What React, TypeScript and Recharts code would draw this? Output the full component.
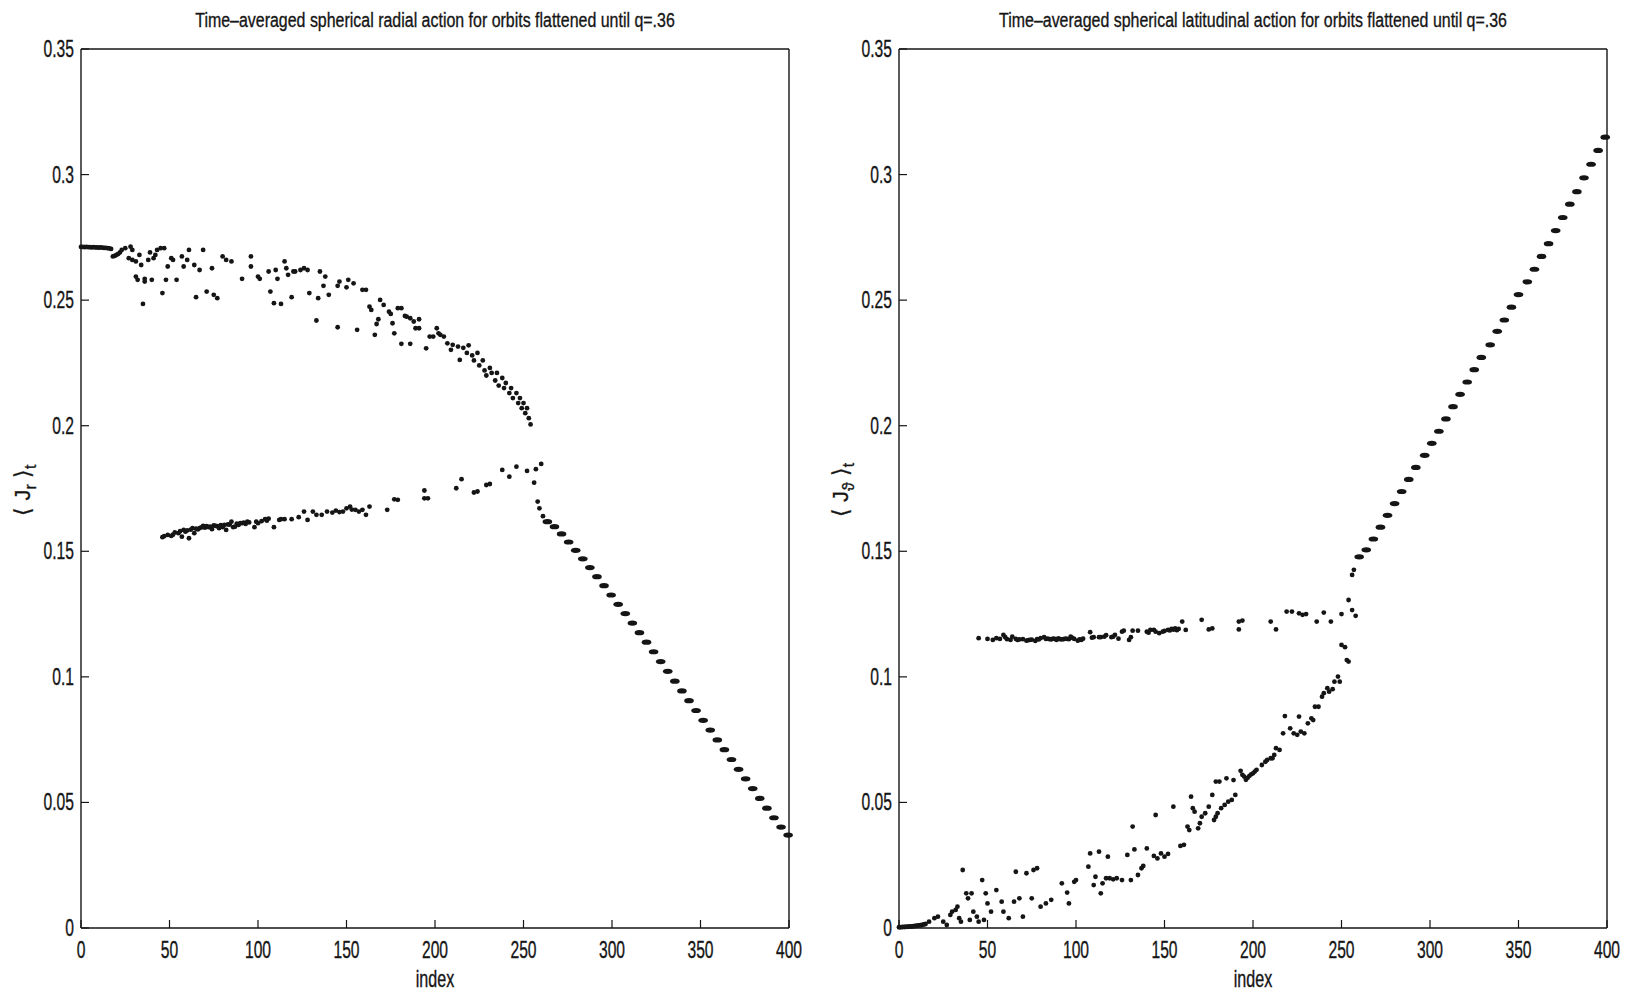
/**
 * Time-averaged spherical actions (radial / latitudinal) vs orbit index, q=.36.
 * Two MATLAB-style scatter panels side by side.
 */
import { Scatter, ScatterChart, XAxis, YAxis } from 'recharts';

type Pt = [number, number];

const xTicks = [0, 50, 100, 150, 200, 250, 300, 350, 400];
const yTicks = [0, 0.05, 0.1, 0.15, 0.2, 0.25, 0.3, 0.35];
const yTickLabels = ['0', '0.05', '0.1', '0.15', '0.2', '0.25', '0.3', '0.35'];

// ---- left panel: <J_r>_t ----
const radialFlat: Pt[] = [
  [0, 0.2712], [1, 0.2712], [2, 0.2711], [3, 0.2712], [4, 0.2711], [5, 0.2711],
  [6, 0.271], [7, 0.2711], [8, 0.271], [9, 0.271], [10, 0.2709], [11, 0.271],
  [12, 0.2709], [13, 0.2708], [14, 0.2708], [15, 0.2707], [16, 0.2706], [17, 0.2704],
];

const radialUpper: Pt[] = [
  [18, 0.2674], [19, 0.2676], [20, 0.268], [21, 0.2684], [22, 0.269], [23, 0.27],
  [25, 0.2707], [28, 0.2713], [29, 0.27], [27, 0.2667], [29, 0.266], [31, 0.2654],
  [33, 0.268], [31, 0.2594], [34, 0.264], [32, 0.2581], [36, 0.2585], [36, 0.2574],
  [35, 0.2485], [38, 0.266], [39, 0.269], [40, 0.2581], [41, 0.2667], [42, 0.268],
  [43, 0.27], [45, 0.2707], [47, 0.2707], [46, 0.2528], [48, 0.2581], [49, 0.2634],
  [51, 0.2667], [52, 0.266], [54, 0.2581], [57, 0.2674], [58, 0.2634], [60, 0.266],
  [61, 0.27], [64, 0.264], [65, 0.2512], [67, 0.262], [69, 0.27], [71, 0.2534],
  [74, 0.2627], [75, 0.2521], [77, 0.2508], [80, 0.2674], [82, 0.266], [85, 0.2654],
  [91, 0.2585], [96, 0.2634], [96, 0.2674], [100, 0.2594], [101, 0.2585], [106, 0.2614],
  [107, 0.2534], [109, 0.2488], [110, 0.262], [111, 0.2585], [113, 0.2485], [115, 0.2654],
  [116, 0.2627], [117, 0.2601], [119, 0.2512], [120, 0.2614], [121, 0.2614], [124, 0.262],
  [126, 0.2627], [128, 0.262], [129, 0.2528], [133, 0.2419], [134, 0.2508], [135, 0.2614],
  [137, 0.2557], [138, 0.2594], [140, 0.2521], [145, 0.2392], [145, 0.2557], [146, 0.2574],
  [150, 0.2551], [151, 0.2581], [154, 0.2567], [156, 0.2382], [159, 0.2541], [161, 0.2541],
  [163, 0.2474], [164, 0.2461], [166, 0.2362], [167, 0.2405], [168, 0.2424], [169, 0.2501],
  [171, 0.2481], [174, 0.2454], [175, 0.2445], [176, 0.2408], [177, 0.2368], [179, 0.2468],
  [181, 0.2468], [181, 0.2326], [183, 0.2437], [184, 0.2434], [186, 0.2326], [186, 0.2428],
  [188, 0.2415], [189, 0.2388], [191, 0.2388], [191, 0.2424], [195, 0.2308], [197, 0.2355],
  [199, 0.2355], [201, 0.2388], [202, 0.2368], [203, 0.2362], [205, 0.2355], [207, 0.2328],
  [209, 0.2302], [210, 0.2322], [213, 0.2315], [214, 0.2262], [216, 0.231], [218, 0.229],
  [219, 0.232], [221, 0.228], [222, 0.226], [224, 0.229], [225, 0.224], [227, 0.226],
  [228, 0.222], [229, 0.22], [231, 0.223], [232, 0.221], [234, 0.218], [235, 0.221],
  [236, 0.216], [238, 0.219], [239, 0.215], [240, 0.217], [242, 0.213], [243, 0.215],
  [244, 0.211], [246, 0.213], [247, 0.209], [248, 0.211], [249, 0.207], [250, 0.209],
  [251, 0.205], [252, 0.207], [253, 0.203], [254, 0.2005],
];

const radialLower: Pt[] = [
  [46, 0.1556], [47, 0.156], [49, 0.1565], [51, 0.1561], [52, 0.1566], [53, 0.1575],
  [55, 0.1572], [56, 0.158], [57, 0.1558], [58, 0.1585], [59, 0.1578], [60, 0.1583],
  [61, 0.1552], [62, 0.1586], [63, 0.1592], [64, 0.1572], [65, 0.159], [66, 0.1587],
  [67, 0.1592], [68, 0.1595], [69, 0.1601], [70, 0.1594], [71, 0.16], [72, 0.1596],
  [73, 0.1598], [74, 0.1588], [75, 0.1603], [76, 0.1601], [77, 0.16], [78, 0.1592],
  [79, 0.1604], [80, 0.1596], [81, 0.1605], [82, 0.1585], [83, 0.1607], [84, 0.1606],
  [85, 0.1618], [86, 0.1596], [87, 0.1598], [88, 0.161], [89, 0.1605], [90, 0.1612],
  [91, 0.1612], [92, 0.1614], [93, 0.1609], [94, 0.1618], [95, 0.1615], [98, 0.1596],
  [99, 0.1618], [100, 0.1612], [102, 0.162], [104, 0.1628], [105, 0.1622], [106, 0.163],
  [109, 0.1596], [112, 0.1625], [113, 0.1628], [115, 0.1628], [119, 0.1628], [123, 0.1636],
  [126, 0.1658], [128, 0.1625], [131, 0.1658], [133, 0.1645], [136, 0.1645], [139, 0.1658],
  [142, 0.1654], [144, 0.1662], [146, 0.1656], [148, 0.1658], [150, 0.1671], [152, 0.1678],
  [153, 0.1666], [155, 0.1665], [157, 0.1658], [159, 0.1665], [161, 0.1645], [163, 0.1678],
  [173, 0.1665], [177, 0.1707], [179, 0.1705], [194, 0.1742], [194, 0.1711], [196, 0.1711],
  [212, 0.1751], [215, 0.1787], [222, 0.1734], [224, 0.1738], [229, 0.1764], [231, 0.1768],
  [238, 0.1824], [242, 0.1797], [246, 0.1837], [252, 0.182], [256, 0.1773], [257, 0.1827],
  [260, 0.1848], [258, 0.1698], [259, 0.1671], [261, 0.164],
];

const radialTail: Pt[] = [
  [263.5, 0.1618], [267.5, 0.1598], [271.5, 0.1569], [275.5, 0.1537], [279.5, 0.1504],
  [283.5, 0.147], [287.5, 0.1435], [291.5, 0.1399], [295.5, 0.1363], [299.5, 0.1326],
  [303.5, 0.1289], [307.5, 0.1252], [311.5, 0.1214], [315.5, 0.1176], [319.5, 0.1138],
  [323.5, 0.11], [327.5, 0.1061], [331.5, 0.1022], [335.5, 0.0983], [339.5, 0.0944],
  [343.5, 0.0905], [347.5, 0.0866], [351.5, 0.0827], [355.5, 0.0788], [359.5, 0.0749],
  [363.5, 0.071], [367.5, 0.0671], [371.5, 0.0632], [375.5, 0.0594], [379.5, 0.0555],
  [383.5, 0.0516], [387.5, 0.0477], [391.5, 0.0439], [395.5, 0.0402], [399.5, 0.037],
];

// ---- right panel: <J_theta>_t ----
const latFlat: Pt[] = [
  [0, 0.0003], [1, 0.0003], [2, 0.0004], [3, 0.0004], [4, 0.0005], [5, 0.0005],
  [6, 0.0006], [7, 0.0006], [8, 0.0007], [9, 0.0008], [10, 0.0009], [11, 0.001],
  [12, 0.0011], [13, 0.0012], [14, 0.0014], [15, 0.0016],
];

const latLower: Pt[] = [
  [17, 0.0025], [20, 0.0039], [22, 0.0045], [25, 0.0025], [27, 0.0012], [29, 0.0052],
  [30, 0.0065], [32, 0.0072], [33, 0.0085], [34, 0.0039], [35, 0.0025], [36, 0.0231],
  [38, 0.0138], [39, 0.0118], [40, 0.0032], [41, 0.0138], [42, 0.0065], [44, 0.0045],
  [45, 0.0025], [47, 0.0191], [48, 0.0032], [49, 0.0138], [50, 0.0098], [52, 0.0065],
  [55, 0.0151], [58, 0.0105], [59, 0.0065], [62, 0.0039], [65, 0.0105], [66, 0.0224],
  [68, 0.0118], [70, 0.0045], [72, 0.0218], [75, 0.0118], [76, 0.0231], [78, 0.0238],
  [80, 0.0085], [83, 0.0098], [86, 0.0112], [92, 0.0178], [95, 0.0141], [96, 0.0098],
  [99, 0.0184], [100, 0.0191], [107, 0.0244], [108, 0.0297], [110, 0.0171], [111, 0.0204],
  [113, 0.0304], [114, 0.0138], [115, 0.0178], [117, 0.0198], [118, 0.0284], [119, 0.0198],
  [121, 0.0194], [123, 0.0198], [126, 0.0191], [129, 0.0291], [131, 0.0191], [132, 0.0404],
  [133, 0.0313], [135, 0.0211], [137, 0.0238], [138, 0.0247], [140, 0.0317], [144, 0.0287],
  [145, 0.045], [146, 0.0277], [148, 0.0297], [150, 0.0284], [152, 0.0295], [155, 0.0483],
  [159, 0.0327], [161, 0.0331], [163, 0.0404], [164, 0.039], [165, 0.0523], [166, 0.0477],
  [167, 0.0463], [169, 0.0397], [170, 0.0417], [171, 0.0443], [173, 0.0457], [175, 0.0483],
  [177, 0.053], [178, 0.043], [179, 0.0443], [180, 0.0457], [179, 0.0583], [181, 0.0583],
  [182, 0.0477], [184, 0.049], [185, 0.0596], [186, 0.0503], [188, 0.051], [189, 0.0589],
  [190, 0.053], [193, 0.0626], [194, 0.061], [195, 0.0603], [196, 0.059], [197, 0.0598],
  [198, 0.0606], [199, 0.0612], [200, 0.0616], [201, 0.0623], [202, 0.063], [205, 0.0649],
  [207, 0.0662], [208, 0.0669], [210, 0.0676], [211, 0.0676], [212, 0.0689], [213, 0.0716],
  [215, 0.0709], [217, 0.0775], [218, 0.0844], [221, 0.0795], [223, 0.0775], [225, 0.0769],
  [226, 0.0842], [227, 0.0782], [229, 0.0775], [231, 0.0815], [233, 0.0835], [234, 0.0828],
  [235, 0.0881], [237, 0.0881], [239, 0.0921], [240, 0.0935], [242, 0.0955], [243, 0.0941],
  [245, 0.0951], [246, 0.0981], [248, 0.1001], [249, 0.0981], [250, 0.1127], [252, 0.1118],
  [253, 0.1067], [254, 0.1061],
];

const latUpper: Pt[] = [
  [45, 0.1154], [50, 0.1151], [53, 0.1147], [55, 0.1154], [57, 0.1151], [59, 0.1167],
  [60, 0.1158], [61, 0.115], [63, 0.1147], [64, 0.116], [66, 0.1151], [67, 0.1147],
  [68, 0.1149], [70, 0.115], [72, 0.1144], [73, 0.1146], [74, 0.1147], [75, 0.1148],
  [77, 0.1143], [78, 0.115], [79, 0.1149], [80, 0.1154], [82, 0.1158], [83, 0.1151],
  [84, 0.1152], [85, 0.115], [86, 0.1149], [87, 0.1152], [88, 0.1151], [89, 0.1147],
  [90, 0.1153], [91, 0.115], [92, 0.1149], [93, 0.115], [94, 0.1152], [95, 0.1151],
  [96, 0.115], [97, 0.116], [98, 0.1155], [99, 0.1151], [101, 0.1144], [102, 0.1149],
  [103, 0.1147], [104, 0.1152], [108, 0.1178], [109, 0.1156], [110, 0.1158], [113, 0.1158],
  [114, 0.1158], [116, 0.116], [117, 0.1166], [120, 0.1158], [121, 0.116], [122, 0.1167],
  [124, 0.1152], [126, 0.118], [127, 0.1184], [130, 0.1147], [131, 0.1158], [132, 0.1184],
  [135, 0.1184], [140, 0.118], [141, 0.1176], [142, 0.1187], [144, 0.1187], [145, 0.118],
  [147, 0.1174], [149, 0.118], [150, 0.1183], [152, 0.1187], [153, 0.1185], [154, 0.1191],
  [155, 0.1188], [156, 0.1193], [157, 0.1186], [158, 0.1191], [160, 0.122], [162, 0.1187],
  [171, 0.1227], [175, 0.1189], [177, 0.1193], [192, 0.122], [194, 0.1224], [192, 0.1189],
  [210, 0.122], [213, 0.1189], [219, 0.126], [222, 0.126], [226, 0.1253], [228, 0.1247],
  [230, 0.125], [236, 0.122], [240, 0.1256], [244, 0.122], [250, 0.125], [254, 0.1306],
  [256, 0.1266], [258, 0.1243], [256, 0.1406], [257, 0.1426],
];

const latTail: Pt[] = [
  [260, 0.1478], [264, 0.1506], [268, 0.1549], [272, 0.1596], [276, 0.1643], [280, 0.169],
  [284, 0.1738], [288, 0.1786], [292, 0.1834], [297, 0.1882], [301, 0.193], [305, 0.1978],
  [309, 0.2027], [313, 0.2076], [317, 0.2125], [321, 0.2174], [325, 0.2223], [329, 0.2272],
  [334, 0.2322], [338, 0.2376], [342, 0.2421], [346, 0.2472], [350, 0.2522], [355, 0.2573],
  [359, 0.2623], [363, 0.2674], [367, 0.2725], [371, 0.2777], [375, 0.2829], [379, 0.2882],
  [383, 0.2932], [387, 0.2987], [391, 0.3041], [395, 0.3096], [399, 0.3149],
];

const INK = '#151515';
const FONT = "'Liberation Sans', Arial, Helvetica, sans-serif";
const SQUEEZE = 0.68;
const LABEL_SIZE = 23;
const TICK = 8;

const toXY = (pts: Pt[]) => pts.map(([x, y]) => ({ x, y }));

function Dot(props: any) {
  return <circle cx={props.cx} cy={props.cy} r={2.4} fill={INK} />;
}

// tail marks are runs of overlapping dots, so they look like short dashes
function Dash(props: any) {
  return <ellipse cx={props.cx} cy={props.cy} rx={4.8} ry={2.6} fill={INK} />;
}

function yLabel(v: number) {
  const i = yTicks.findIndex((t) => Math.abs(t - v) < 1e-9);
  return i >= 0 ? yTickLabels[i] : String(v);
}

// scanned print looks heavier than a plain regular face
const inkText = { fill: INK, stroke: INK, strokeWidth: 0.35, fontFamily: FONT };

function BottomTick(props: any) {
  const { x, y, payload } = props;
  return (
    <g>
      <line x1={x} x2={x} y1={y} y2={y - TICK} stroke={INK} strokeWidth={1.2} />
      <text
        transform={`translate(${x},${y + 30}) scale(${SQUEEZE},1)`}
        textAnchor="middle"
        fontSize={LABEL_SIZE}
        {...inkText}
      >
        {payload.value}
      </text>
    </g>
  );
}

function LeftTick(props: any) {
  const { x, y, payload } = props;
  return (
    <g>
      <line x1={x} x2={x + TICK} y1={y} y2={y} stroke={INK} strokeWidth={1.2} />
      <text
        transform={`translate(${x - 7},${y + 8}) scale(${SQUEEZE},1)`}
        textAnchor="end"
        fontSize={LABEL_SIZE}
        {...inkText}
      >
        {yLabel(payload.value)}
      </text>
    </g>
  );
}

function TopTick(props: any) {
  const { x, y } = props;
  return <line x1={x} x2={x} y1={y} y2={y + TICK} stroke={INK} strokeWidth={1.2} />;
}

function RightTick(props: any) {
  const { x, y } = props;
  return <line x1={x} x2={x - TICK} y1={y} y2={y} stroke={INK} strokeWidth={1.2} />;
}

const W = 817;
const H = 991;
const PLOT_L = 81;
const PLOT_R = 789;
const PLOT_T = 49;
const PLOT_B = 928;
const AX = 1; // axis band thickness (CartesianAxis draws nothing at 0)
const RIGHT_OFFSET = 818;

interface PanelProps {
  left: number;
  dots: Pt[][];
  tail: Pt[];
}

function Panel({ left, dots, tail }: PanelProps) {
  const axisLine = { stroke: INK, strokeWidth: 1.4 };
  return (
    <div style={{ position: 'absolute', left, top: 0, width: W, height: H }}>
      <ScatterChart
        width={W}
        height={H}
        margin={{
          top: PLOT_T - AX,
          right: W - PLOT_R - AX,
          bottom: H - PLOT_B - AX,
          left: PLOT_L - AX,
        }}
      >
        <XAxis
          type="number"
          dataKey="x"
          domain={[0, 400]}
          ticks={xTicks}
          interval={0}
          height={AX}
          tickSize={0}
          tickMargin={0}
          axisLine={axisLine}
          tickLine={false}
          tick={<BottomTick />}
        />
        <XAxis
          xAxisId="top"
          orientation="top"
          type="number"
          domain={[0, 400]}
          ticks={xTicks}
          interval={0}
          height={AX}
          tickSize={0}
          tickMargin={0}
          axisLine={axisLine}
          tickLine={false}
          tick={<TopTick />}
        />
        <YAxis
          type="number"
          dataKey="y"
          domain={[0, 0.35]}
          ticks={yTicks}
          interval={0}
          width={AX}
          tickSize={0}
          tickMargin={0}
          axisLine={axisLine}
          tickLine={false}
          tick={<LeftTick />}
        />
        <YAxis
          yAxisId="right"
          orientation="right"
          type="number"
          domain={[0, 0.35]}
          ticks={yTicks}
          interval={0}
          width={AX}
          tickSize={0}
          tickMargin={0}
          axisLine={axisLine}
          tickLine={false}
          tick={<RightTick />}
        />
        {dots.map((d, i) => (
          <Scatter key={i} data={toXY(d)} fill={INK} shape={Dot} isAnimationActive={false} />
        ))}
        <Scatter data={toXY(tail)} fill={INK} shape={Dash} isAnimationActive={false} />
      </ScatterChart>
    </div>
  );
}

interface LabelProps {
  left: number;
  title: string;
  sub: string;
}

function PanelText({ left, title, sub }: LabelProps) {
  const cx = left + (PLOT_L + PLOT_R) / 2;
  return (
    <g>
      <text
        transform={`translate(${cx},27) scale(0.76,1)`}
        textAnchor="middle"
        fontSize={21}
        {...inkText}
      >
        {title}
      </text>
      <text
        transform={`translate(${cx},987) scale(0.7,1)`}
        textAnchor="middle"
        fontSize={LABEL_SIZE}
        {...inkText}
      >
        index
      </text>
      <text
        transform={`translate(${left + 30},490) rotate(-90)`}
        textAnchor="middle"
        fontSize={22}
        {...inkText}
      >
        <tspan>{'\u27E8 J'}</tspan>
        <tspan fontSize={16} dy={6}>{sub}</tspan>
        <tspan dy={-6}>{' \u27E9'}</tspan>
        <tspan fontSize={16} dy={6}>t</tspan>
      </text>
    </g>
  );
}

export default function App() {
  return (
    <div style={{ position: 'relative', width: 1635, height: 991, background: '#fff' }}>
      <style>{'body{margin:0;background:#fff}'}</style>
      <Panel left={0} dots={[radialFlat, radialUpper, radialLower]} tail={radialTail} />
      <Panel left={RIGHT_OFFSET} dots={[latFlat, latLower, latUpper]} tail={latTail} />
      <svg
        width={1635}
        height={991}
        style={{ position: 'absolute', left: 0, top: 0, pointerEvents: 'none' }}
      >
        <PanelText
          left={0}
          title="Time–averaged spherical radial action for orbits flattened until q=.36"
          sub="r"
        />
        <PanelText
          left={RIGHT_OFFSET}
          title="Time–averaged spherical latitudinal action for orbits flattened until q=.36"
          sub={'\u03D1'}
        />
      </svg>
    </div>
  );
}
